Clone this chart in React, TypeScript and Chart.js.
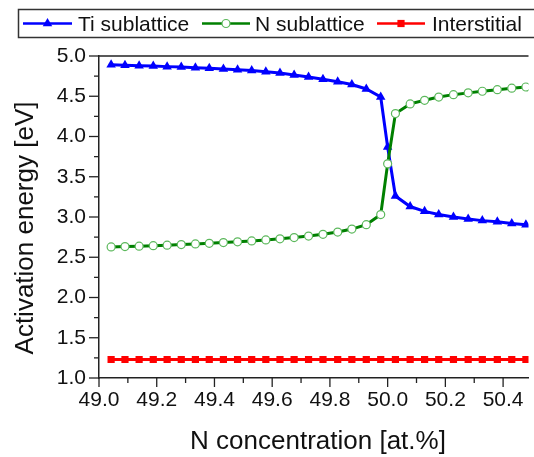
import React, { useEffect, useRef } from 'react';
import { Chart, registerables } from 'chart.js';

Chart.register(...registerables);

// ---------- data ----------
const N_CONC = [
  49.042, 49.09, 49.139, 49.188, 49.236, 49.285, 49.334, 49.382, 49.431, 49.48,
  49.529, 49.578, 49.627, 49.676, 49.726, 49.776, 49.827, 49.876, 49.926, 49.976,
  50.0,
  50.027, 50.078, 50.128, 50.177, 50.228, 50.279, 50.328, 50.38, 50.43, 50.479,
];
const TI_SUBLATTICE = [
  4.89, 4.885, 4.88, 4.875, 4.868, 4.862, 4.855, 4.848, 4.84, 4.83,
  4.82, 4.805, 4.79, 4.765, 4.74, 4.71, 4.68, 4.645, 4.59, 4.49,
  3.87,
  3.26, 3.13, 3.07, 3.03, 3.0, 2.975, 2.955, 2.94, 2.92, 2.905,
];
const N_SUBLATTICE = [
  2.628, 2.633, 2.638, 2.644, 2.65, 2.657, 2.665, 2.673, 2.682, 2.692,
  2.703, 2.715, 2.729, 2.745, 2.763, 2.785, 2.813, 2.85, 2.905, 3.03,
  3.66,
  4.285, 4.405, 4.45, 4.49, 4.52, 4.542, 4.562, 4.582, 4.6, 4.615,
];
// no interstitial point at exactly 50.0 at.%
const INTERSTITIAL = [
  1.23, 1.23, 1.23, 1.23, 1.23, 1.23, 1.23, 1.23, 1.23, 1.23,
  1.23, 1.23, 1.23, 1.23, 1.23, 1.23, 1.23, 1.23, 1.23, 1.23,
  null,
  1.23, 1.23, 1.23, 1.23, 1.23, 1.23, 1.23, 1.23, 1.23, 1.23,
];
const SERIES_NAMES = ['Ti sublattice', 'N sublattice', 'Interstitial'];

const X_TICKS = [49.0, 49.1, 49.2, 49.3, 49.4, 49.5, 49.6, 49.7, 49.8, 49.9, 50.0, 50.1, 50.2, 50.3, 50.4];
const X_TICK_LABELS = ['49.0', '', '49.2', '', '49.4', '', '49.6', '', '49.8', '', '50.0', '', '50.2', '', '50.4'];
const Y_TICKS = [1.0, 1.25, 1.5, 1.75, 2.0, 2.25, 2.5, 2.75, 3.0, 3.25, 3.5, 3.75, 4.0, 4.25, 4.5, 4.75, 5.0];
const Y_TICK_LABELS = ['1.0', '', '1.5', '', '2.0', '', '2.5', '', '3.0', '', '3.5', '', '4.0', '', '4.5', '', '5.0'];
const X_MIN = 49.0;
const X_MAX = 50.488;
const Y_MIN = 1.0;
const Y_MAX = 5.0;
const X_TITLE = 'N concentration [at.%]';
const Y_TITLE = 'Activation energy [eV]';

// ---------- styles ----------
const FONT = '"Liberation Sans", Arial, sans-serif';
const BLUE = '#0000ff';
const GREEN = '#008000';
const GREEN_MARK = '#5cb85c';
const RED = '#ff0000';
const AXIS = '#222222';

function drawMarker(ctx: CanvasRenderingContext2D, kind: string, x: number, y: number) {
  ctx.save();
  if (kind === 'triangle') {
    const r = 5.5;
    ctx.beginPath();
    ctx.moveTo(x, y - r);
    ctx.lineTo(x + r * Math.sin((2 * Math.PI) / 3), y - r * Math.cos((2 * Math.PI) / 3));
    ctx.lineTo(x + r * Math.sin((4 * Math.PI) / 3), y - r * Math.cos((4 * Math.PI) / 3));
    ctx.closePath();
    ctx.fillStyle = BLUE;
    ctx.fill();
  } else if (kind === 'circle') {
    ctx.beginPath();
    ctx.arc(x, y, 4, 0, Math.PI * 2);
    ctx.fillStyle = '#ffffff';
    ctx.fill();
    ctx.lineWidth = 1.2;
    ctx.strokeStyle = GREEN_MARK;
    ctx.stroke();
  } else {
    const s = 3.6;
    ctx.fillStyle = RED;
    ctx.fillRect(x - s, y - s, 2 * s, 2 * s);
  }
  ctx.restore();
}

const decorPlugin = {
  id: 'decor',
  afterDraw(chart: any) {
    const ctx: CanvasRenderingContext2D = chart.ctx;
    const area = chart.chartArea;
    const xs = chart.scales.x;
    const ys = chart.scales.y;
    ctx.save();
    ctx.strokeStyle = AXIS;
    ctx.lineWidth = 1.3;
    // tick marks
    X_TICKS.forEach((v, i) => {
      const px = xs.getPixelForValue(v);
      const len = X_TICK_LABELS[i] ? 9 : 5;
      ctx.beginPath();
      ctx.moveTo(px, area.bottom);
      ctx.lineTo(px, area.bottom + len);
      ctx.stroke();
    });
    Y_TICKS.forEach((v, i) => {
      const py = ys.getPixelForValue(v);
      const len = Y_TICK_LABELS[i] ? 10 : 5;
      ctx.beginPath();
      ctx.moveTo(area.left, py);
      ctx.lineTo(area.left - len, py);
      ctx.stroke();
    });
    // top frame
    ctx.lineWidth = 1.5;
    ctx.beginPath();
    ctx.moveTo(area.left, area.top);
    ctx.lineTo(area.right, area.top);
    ctx.stroke();

    // axis titles
    ctx.fillStyle = '#111111';
    ctx.font = `26px ${FONT}`;
    ctx.textAlign = 'center';
    ctx.textBaseline = 'alphabetic';
    ctx.fillText(X_TITLE, 318, 449);
    ctx.save();
    ctx.translate(33, 228);
    ctx.rotate(-Math.PI / 2);
    ctx.fillText(Y_TITLE, 0, 0);
    ctx.restore();

    // legend
    ctx.lineWidth = 1.5;
    ctx.strokeStyle = '#333333';
    ctx.strokeRect(18.5, 9.5, 540, 28);
    const items = [
      { name: SERIES_NAMES[0], color: BLUE, kind: 'triangle', x0: 23, x1: 72, tx: 78 },
      { name: SERIES_NAMES[1], color: GREEN, kind: 'circle', x0: 202, x1: 250, tx: 255 },
      { name: SERIES_NAMES[2], color: RED, kind: 'rect', x0: 377, x1: 425, tx: 432 },
    ];
    const ly = 23.5;
    ctx.font = `21px ${FONT}`;
    ctx.textAlign = 'left';
    items.forEach((it) => {
      ctx.strokeStyle = it.color;
      ctx.lineWidth = 2.5;
      ctx.beginPath();
      ctx.moveTo(it.x0, ly);
      ctx.lineTo(it.x1, ly);
      ctx.stroke();
      drawMarker(ctx, it.kind, (it.x0 + it.x1) / 2, ly);
      ctx.fillStyle = '#111111';
      ctx.fillText(it.name, it.tx, 31);
    });
    ctx.restore();
  },
};

export default function App() {
  const canvasRef = useRef<HTMLCanvasElement | null>(null);

  useEffect(() => {
    const canvas = canvasRef.current;
    if (!canvas) return;
    Chart.defaults.font.family = FONT;
    const chart = new Chart(canvas, {
      type: 'line',
      data: {
        datasets: [
          {
            label: SERIES_NAMES[0],
            data: N_CONC.map((x, i) => ({ x, y: TI_SUBLATTICE[i] })),
            borderColor: BLUE,
            backgroundColor: BLUE,
            borderWidth: 3,
            pointStyle: 'triangle',
            pointRadius: 5.5,
            pointBorderWidth: 0,
            pointBackgroundColor: BLUE,
            tension: 0,
            order: 2,
          },
          {
            label: SERIES_NAMES[1],
            data: N_CONC.map((x, i) => ({ x, y: N_SUBLATTICE[i] })),
            borderColor: GREEN,
            backgroundColor: '#ffffff',
            borderWidth: 3,
            pointStyle: 'circle',
            pointRadius: 4,
            pointBorderWidth: 1.2,
            pointBorderColor: GREEN_MARK,
            pointBackgroundColor: '#ffffff',
            tension: 0,
            order: 1,
          },
          {
            label: SERIES_NAMES[2],
            data: N_CONC.map((x, i) => ({ x, y: INTERSTITIAL[i] })),
            borderColor: RED,
            backgroundColor: RED,
            borderWidth: 3,
            pointStyle: 'rect',
            pointRadius: 5.1,
            pointBorderWidth: 0,
            pointBackgroundColor: RED,
            tension: 0,
            spanGaps: true,
            order: 0,
          },
        ],
      },
      options: {
        responsive: false,
        animation: false,
        events: [],
        layout: { padding: { top: 56, left: 0, right: 0, bottom: 0 } },
        plugins: {
          legend: { display: false },
          tooltip: { enabled: false },
          title: { display: false },
        },
        scales: {
          x: {
            type: 'linear',
            min: X_MIN,
            max: X_MAX,
            afterBuildTicks: (s: any) => {
              s.ticks = X_TICKS.map((v) => ({ value: v }));
            },
            afterFit: (s: any) => {
              s.height = 79;
            },
            ticks: {
              autoSkip: false,
              maxRotation: 0,
              padding: 1,
              color: '#111111',
              font: { size: 21, family: FONT },
              callback: (_v: any, i: number) => X_TICK_LABELS[i],
            },
            grid: { drawOnChartArea: false, tickLength: 9, tickColor: 'rgba(0,0,0,0)' },
            border: { display: true, color: AXIS, width: 1.5 },
          },
          y: {
            type: 'linear',
            min: Y_MIN,
            max: Y_MAX,
            afterBuildTicks: (s: any) => {
              s.ticks = Y_TICKS.map((v) => ({ value: v }));
            },
            afterFit: (s: any) => {
              s.width = 99;
            },
            ticks: {
              autoSkip: false,
              padding: 3,
              color: '#111111',
              font: { size: 21, family: FONT },
              callback: (_v: any, i: number) => Y_TICK_LABELS[i],
            },
            grid: { drawOnChartArea: false, tickLength: 10, tickColor: 'rgba(0,0,0,0)' },
            border: { display: true, color: AXIS, width: 1.5 },
          },
        },
      },
      plugins: [decorPlugin],
    });
    return () => chart.destroy();
  }, []);

  return (
    <div style={{ position: 'absolute', left: 0, top: 0, width: 534, height: 457, background: '#ffffff' }}>
      <canvas ref={canvasRef} width={534} height={457} style={{ display: 'block' }} />
    </div>
  );
}
